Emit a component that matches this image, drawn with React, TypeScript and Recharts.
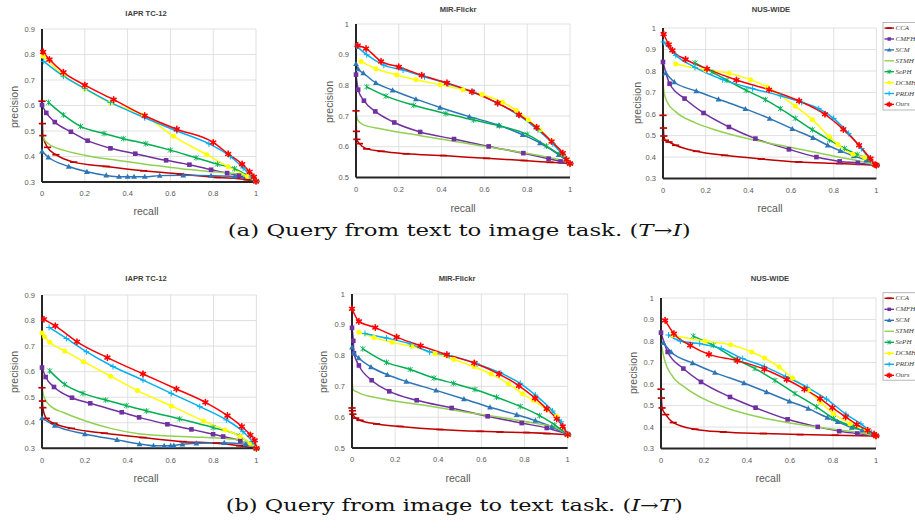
import React from 'react';
import { LineChart, Line, XAxis, YAxis, CartesianGrid } from 'recharts';

type Pt = [number, number];

// ---------- series meta ----------
const SERIES_NAMES = ['CCA', 'CMFH', 'SCM', 'STMH', 'SePH', 'DCMH', 'PRDH', 'Ours'];
const SERIES_COLORS = ['#C00000', '#7030A0', '#2E75B6', '#92D050', '#00B050', '#FFFF00', '#00B0F0', '#FF0000'];
const SERIES_MARKERS = ['dash', 'square', 'triangle', 'none', 'asterisk', 'circle', 'plus', 'star'];

// ---------- tick labels ----------
const X_TICKS = [0, 0.2, 0.4, 0.6, 0.8, 1];
const Y_TICKS_IAPR = [0.3, 0.4, 0.5, 0.6, 0.7, 0.8, 0.9];
const Y_TICKS_MIR = [0.5, 0.6, 0.7, 0.8, 0.9, 1];
const Y_TICKS_NUS = [0.3, 0.4, 0.5, 0.6, 0.7, 0.8, 0.9, 1];

const PANEL_TITLES = ['IAPR TC-12', 'MIR-Flickr', 'NUS-WIDE'];

// ---------- (a) text -> image, IAPR TC-12 ----------
const t2iIaprCCA: Pt[] = [[0, 0.617], [0.002, 0.529], [0.004, 0.482], [0.026, 0.436], [0.065, 0.407], [0.148, 0.378], [0.3, 0.361], [0.475, 0.344], [0.646, 0.331], [0.818, 0.318], [0.958, 0.309], [1, 0.303]];
const t2iIaprCMFH: Pt[] = [[0, 0.602], [0.02, 0.571], [0.06, 0.535], [0.135, 0.497], [0.213, 0.462], [0.32, 0.432], [0.436, 0.411], [0.58, 0.385], [0.689, 0.368], [0.79, 0.348], [0.865, 0.335], [0.92, 0.325], [1, 0.303]];
const t2iIaprSCM: Pt[] = [[0, 0.42], [0.03, 0.397], [0.125, 0.361], [0.21, 0.34], [0.3, 0.326], [0.36, 0.321], [0.4, 0.321], [0.43, 0.321], [0.48, 0.321], [0.55, 0.325], [0.66, 0.326], [0.79, 0.325], [0.9, 0.322], [1, 0.303]];
const t2iIaprSTMH: Pt[] = [[0, 0.5], [0.005, 0.475], [0.03, 0.45], [0.1, 0.425], [0.2, 0.405], [0.35, 0.385], [0.5, 0.368], [0.65, 0.352], [0.8, 0.34], [0.92, 0.33], [1, 0.303]];
const t2iIaprSePH: Pt[] = [[0.03, 0.612], [0.1, 0.563], [0.18, 0.518], [0.29, 0.49], [0.38, 0.47], [0.485, 0.45], [0.6, 0.425], [0.72, 0.395], [0.82, 0.37], [0.9, 0.352], [0.96, 0.325], [1, 0.303]];
const t2iIaprDCMH: Pt[] = [[0.005, 0.793], [0.1, 0.718], [0.2, 0.665], [0.32, 0.61], [0.475, 0.562], [0.615, 0.479], [0.77, 0.407], [0.87, 0.36], [0.96, 0.322], [1, 0.303]];
const t2iIaprPRDH: Pt[] = [[0.008, 0.773], [0.1, 0.715], [0.2, 0.667], [0.32, 0.612], [0.48, 0.552], [0.63, 0.5], [0.78, 0.45], [0.88, 0.4], [0.94, 0.355], [0.98, 0.32], [1, 0.303]];
const t2iIaprOurs: Pt[] = [[0.005, 0.81], [0.035, 0.78], [0.1, 0.73], [0.2, 0.68], [0.335, 0.623], [0.48, 0.56], [0.63, 0.507], [0.8, 0.455], [0.87, 0.41], [0.935, 0.37], [0.97, 0.34], [0.99, 0.32], [1, 0.303]];

// ---------- (a) text -> image, MIR-Flickr ----------
const t2iMirCCA: Pt[] = [[0, 0.717], [0.002, 0.65], [0.004, 0.624], [0.016, 0.61], [0.05, 0.593], [0.118, 0.585], [0.234, 0.577], [0.408, 0.571], [0.61, 0.562], [0.785, 0.555], [0.907, 0.549], [1, 0.545]];
const t2iMirCMFH: Pt[] = [[0, 0.835], [0.01, 0.786], [0.037, 0.75], [0.09, 0.715], [0.179, 0.679], [0.3, 0.648], [0.458, 0.625], [0.62, 0.601], [0.782, 0.579], [0.9, 0.561], [0.956, 0.552], [1, 0.545]];
const t2iMirSCM: Pt[] = [[0, 0.87], [0.01, 0.853], [0.034, 0.84], [0.093, 0.808], [0.171, 0.784], [0.28, 0.755], [0.393, 0.728], [0.53, 0.698], [0.668, 0.67], [0.779, 0.639], [0.86, 0.612], [0.947, 0.574], [1, 0.545]];
const t2iMirSTMH: Pt[] = [[0, 0.71], [0.01, 0.685], [0.03, 0.673], [0.12, 0.658], [0.3, 0.636], [0.5, 0.613], [0.7, 0.59], [0.85, 0.572], [0.95, 0.558], [1, 0.545]];
const t2iMirSePH: Pt[] = [[0.05, 0.795], [0.14, 0.765], [0.27, 0.735], [0.42, 0.708], [0.55, 0.687], [0.67, 0.668], [0.8, 0.64], [0.89, 0.602], [0.95, 0.575], [1, 0.545]];
const t2iMirDCMH: Pt[] = [[0.023, 0.878], [0.093, 0.854], [0.19, 0.834], [0.28, 0.818], [0.393, 0.802], [0.5, 0.786], [0.589, 0.77], [0.685, 0.745], [0.75, 0.718], [0.805, 0.688], [0.86, 0.655], [0.914, 0.617], [0.97, 0.574], [1, 0.545]];
const t2iMirPRDH: Pt[] = [[0.003, 0.928], [0.05, 0.9], [0.13, 0.866], [0.22, 0.85], [0.32, 0.828], [0.43, 0.805], [0.55, 0.778], [0.66, 0.742], [0.76, 0.703], [0.85, 0.655], [0.92, 0.61], [0.97, 0.57], [1, 0.545]];
const t2iMirOurs: Pt[] = [[0.008, 0.93], [0.047, 0.92], [0.117, 0.878], [0.2, 0.86], [0.307, 0.833], [0.425, 0.808], [0.542, 0.779], [0.662, 0.742], [0.762, 0.704], [0.844, 0.663], [0.914, 0.617], [0.966, 0.579], [0.984, 0.558], [1, 0.545]];

// ---------- (a) text -> image, NUS-WIDE ----------
const t2iNusCCA: Pt[] = [[0, 0.594], [0.002, 0.535], [0.004, 0.498], [0.011, 0.478], [0.028, 0.47], [0.059, 0.455], [0.156, 0.427], [0.289, 0.408], [0.461, 0.391], [0.636, 0.377], [0.828, 0.37], [1, 0.362]];
const t2iNusCMFH: Pt[] = [[0, 0.842], [0.031, 0.741], [0.101, 0.672], [0.19, 0.605], [0.309, 0.54], [0.433, 0.486], [0.59, 0.436], [0.719, 0.4], [0.828, 0.38], [0.913, 0.373], [1, 0.362]];
const t2iNusSCM: Pt[] = [[0.0125, 0.791], [0.053, 0.749], [0.156, 0.707], [0.26, 0.669], [0.386, 0.624], [0.5, 0.579], [0.606, 0.531], [0.703, 0.49], [0.772, 0.455], [0.831, 0.429], [0.894, 0.405], [0.953, 0.385], [1, 0.362]];
const t2iNusSTMH: Pt[] = [[0, 0.75], [0.005, 0.7], [0.02, 0.655], [0.06, 0.61], [0.15, 0.56], [0.25, 0.525], [0.4, 0.485], [0.55, 0.455], [0.7, 0.425], [0.85, 0.395], [0.95, 0.375], [1, 0.362]];
const t2iNusSePH: Pt[] = [[0.15, 0.838], [0.23, 0.795], [0.3, 0.757], [0.39, 0.71], [0.48, 0.667], [0.55, 0.625], [0.62, 0.58], [0.7, 0.527], [0.78, 0.48], [0.85, 0.44], [0.91, 0.412], [0.96, 0.392], [1, 0.362]];
const t2iNusDCMH: Pt[] = [[0.06, 0.833], [0.2, 0.805], [0.31, 0.79], [0.41, 0.76], [0.49, 0.725], [0.62, 0.636], [0.7, 0.574], [0.78, 0.494], [0.82, 0.458], [0.89, 0.413], [0.945, 0.398], [1, 0.362]];
const t2iNusPRDH: Pt[] = [[0.003, 0.935], [0.06, 0.873], [0.15, 0.817], [0.28, 0.76], [0.42, 0.718], [0.55, 0.685], [0.65, 0.655], [0.73, 0.625], [0.8, 0.58], [0.87, 0.51], [0.93, 0.44], [0.97, 0.39], [1, 0.362]];
const t2iNusOurs: Pt[] = [[0.003, 0.972], [0.027, 0.923], [0.044, 0.896], [0.106, 0.854], [0.206, 0.81], [0.344, 0.758], [0.497, 0.713], [0.638, 0.661], [0.759, 0.599], [0.845, 0.529], [0.919, 0.455], [0.972, 0.393], [0.994, 0.365], [1, 0.362]];

// ---------- (b) image -> text, IAPR TC-12 ----------
const i2tIaprCCA: Pt[] = [[0, 0.537], [0.002, 0.485], [0.004, 0.459], [0.02, 0.417], [0.056, 0.398], [0.137, 0.378], [0.292, 0.359], [0.471, 0.342], [0.658, 0.326], [0.813, 0.32], [0.922, 0.31], [1, 0.3]];
const i2tIaprCMFH: Pt[] = [[0, 0.616], [0.017, 0.579], [0.056, 0.54], [0.14, 0.498], [0.225, 0.476], [0.372, 0.441], [0.453, 0.421], [0.585, 0.394], [0.697, 0.374], [0.798, 0.355], [0.845, 0.346], [0.925, 0.33], [1, 0.3]];
const i2tIaprSCM: Pt[] = [[0, 0.418], [0.06, 0.389], [0.2, 0.356], [0.35, 0.333], [0.455, 0.317], [0.52, 0.31], [0.57, 0.31], [0.6, 0.31], [0.615, 0.311], [0.655, 0.316], [0.72, 0.32], [0.85, 0.322], [0.95, 0.316], [1, 0.3]];
const i2tIaprSTMH: Pt[] = [[0, 0.54], [0.01, 0.5], [0.04, 0.465], [0.1, 0.44], [0.2, 0.408], [0.32, 0.378], [0.45, 0.357], [0.6, 0.348], [0.75, 0.343], [0.9, 0.335], [1, 0.3]];
const i2tIaprSePH: Pt[] = [[0.036, 0.603], [0.106, 0.55], [0.191, 0.515], [0.297, 0.489], [0.393, 0.467], [0.487, 0.446], [0.642, 0.415], [0.798, 0.381], [0.922, 0.348], [1, 0.3]];
const i2tIaprDCMH: Pt[] = [[0, 0.751], [0.012, 0.737], [0.036, 0.715], [0.106, 0.681], [0.194, 0.639], [0.32, 0.582], [0.445, 0.526], [0.603, 0.466], [0.754, 0.407], [0.854, 0.372], [0.925, 0.346], [0.972, 0.32], [1, 0.3]];
const i2tIaprPRDH: Pt[] = [[0.033, 0.773], [0.114, 0.73], [0.207, 0.678], [0.331, 0.62], [0.471, 0.567], [0.603, 0.515], [0.736, 0.463], [0.86, 0.411], [0.938, 0.365], [0.981, 0.326], [1, 0.3]];
const i2tIaprOurs: Pt[] = [[0.009, 0.805], [0.062, 0.779], [0.163, 0.717], [0.305, 0.655], [0.471, 0.591], [0.627, 0.532], [0.762, 0.48], [0.865, 0.428], [0.932, 0.385], [0.972, 0.352], [0.992, 0.331], [1, 0.3]];

// ---------- (b) image -> text, MIR-Flickr ----------
const i2tMirCCA: Pt[] = [[0, 0.63], [0.002, 0.621], [0.004, 0.61], [0.017, 0.597], [0.037, 0.59], [0.114, 0.578], [0.223, 0.57], [0.408, 0.56], [0.594, 0.554], [0.686, 0.552], [0.81, 0.55], [0.903, 0.547], [1, 0.543]];
const i2tMirCMFH: Pt[] = [[0, 0.89], [0.006, 0.848], [0.009, 0.808], [0.032, 0.768], [0.091, 0.72], [0.173, 0.684], [0.3, 0.655], [0.462, 0.63], [0.629, 0.603], [0.787, 0.581], [0.903, 0.565], [1, 0.545]];
const i2tMirSCM: Pt[] = [[0, 0.827], [0.009, 0.808], [0.031, 0.792], [0.088, 0.763], [0.164, 0.738], [0.252, 0.716], [0.39, 0.687], [0.519, 0.659], [0.64, 0.632], [0.764, 0.608], [0.85, 0.589], [0.926, 0.569], [1, 0.543]];
const i2tMirSTMH: Pt[] = [[0, 0.72], [0.005, 0.69], [0.03, 0.68], [0.14, 0.66], [0.35, 0.637], [0.55, 0.614], [0.7, 0.598], [0.85, 0.58], [0.95, 0.565], [1, 0.543]];
const i2tMirSePH: Pt[] = [[0.05, 0.822], [0.16, 0.778], [0.27, 0.755], [0.38, 0.727], [0.47, 0.71], [0.57, 0.69], [0.67, 0.665], [0.78, 0.635], [0.87, 0.605], [0.94, 0.575], [1, 0.543]];
const i2tMirDCMH: Pt[] = [[0.032, 0.876], [0.102, 0.859], [0.187, 0.843], [0.277, 0.83], [0.385, 0.807], [0.473, 0.787], [0.566, 0.764], [0.645, 0.74], [0.725, 0.709], [0.791, 0.676], [0.841, 0.655], [0.906, 0.624], [0.949, 0.603], [1, 0.543]];
const i2tMirPRDH: Pt[] = [[0.06, 0.872], [0.16, 0.857], [0.27, 0.838], [0.36, 0.812], [0.45, 0.8], [0.58, 0.773], [0.69, 0.743], [0.78, 0.71], [0.85, 0.672], [0.93, 0.62], [0.97, 0.585], [1, 0.543]];
const i2tMirOurs: Pt[] = [[0, 0.952], [0.032, 0.911], [0.108, 0.891], [0.207, 0.86], [0.318, 0.832], [0.44, 0.803], [0.567, 0.776], [0.682, 0.74], [0.774, 0.702], [0.849, 0.662], [0.903, 0.627], [0.949, 0.595], [0.977, 0.57], [1, 0.543]];

// ---------- (b) image -> text, NUS-WIDE ----------
const i2tNusCCA: Pt[] = [[0, 0.576], [0.002, 0.535], [0.005, 0.489], [0.022, 0.458], [0.057, 0.421], [0.158, 0.39], [0.29, 0.377], [0.476, 0.37], [0.647, 0.365], [0.81, 0.362], [1, 0.359]];
const i2tNusCMFH: Pt[] = [[0, 0.839], [0.031, 0.749], [0.104, 0.672], [0.186, 0.61], [0.321, 0.54], [0.44, 0.49], [0.589, 0.436], [0.729, 0.401], [0.829, 0.381], [0.913, 0.37], [1, 0.359]];
const i2tNusSCM: Pt[] = [[0.011, 0.792], [0.047, 0.749], [0.147, 0.698], [0.251, 0.653], [0.386, 0.605], [0.491, 0.563], [0.597, 0.52], [0.685, 0.486], [0.774, 0.444], [0.822, 0.424], [0.887, 0.398], [0.936, 0.385], [1, 0.359]];
const i2tNusSTMH: Pt[] = [[0, 0.788], [0.019, 0.703], [0.05, 0.641], [0.119, 0.579], [0.197, 0.532], [0.336, 0.478], [0.491, 0.439], [0.647, 0.412], [0.802, 0.39], [0.926, 0.374], [1, 0.359]];
const i2tNusSePH: Pt[] = [[0.15, 0.823], [0.243, 0.78], [0.349, 0.715], [0.437, 0.672], [0.53, 0.617], [0.623, 0.556], [0.724, 0.494], [0.802, 0.44], [0.895, 0.401], [1, 0.359]];
const i2tNusDCMH: Pt[] = [[0.054, 0.827], [0.205, 0.799], [0.324, 0.783], [0.422, 0.749], [0.481, 0.721], [0.55, 0.679], [0.612, 0.628], [0.685, 0.571], [0.74, 0.517], [0.802, 0.463], [0.879, 0.416], [0.957, 0.385], [1, 0.359]];
const i2tNusPRDH: Pt[] = [[0.035, 0.828], [0.09, 0.8], [0.18, 0.788], [0.28, 0.765], [0.38, 0.718], [0.48, 0.682], [0.58, 0.635], [0.68, 0.585], [0.77, 0.53], [0.86, 0.46], [0.93, 0.415], [0.98, 0.375], [1, 0.359]];
const i2tNusOurs: Pt[] = [[0.019, 0.896], [0.06, 0.834], [0.136, 0.78], [0.223, 0.738], [0.355, 0.709], [0.481, 0.669], [0.585, 0.621], [0.667, 0.576], [0.74, 0.532], [0.797, 0.49], [0.859, 0.447], [0.91, 0.412], [0.961, 0.385], [0.991, 0.367], [1, 0.359]];

// ---------- markers ----------
function markerEl(kind: string, color: string, cx: number, cy: number, key: string, s = 1) {
  if (cx == null || cy == null || isNaN(cx) || isNaN(cy)) return <g key={key} />;
  switch (kind) {
    case 'dash':
      return <line key={key} x1={cx - 3.6 * s} x2={cx + 3.6 * s} y1={cy} y2={cy} stroke={color} strokeWidth={1.7} />;
    case 'square':
      return <rect key={key} x={cx - 2.3 * s} y={cy - 2.3 * s} width={4.6 * s} height={4.6 * s} fill={color} />;
    case 'triangle':
      return <path key={key} d={`M${cx},${cy - 3 * s}L${cx + 2.9 * s},${cy + 2.2 * s}L${cx - 2.9 * s},${cy + 2.2 * s}Z`} fill={color} />;
    case 'asterisk': {
      const a = 2.4 * s;
      return (
        <g key={key} stroke={color} strokeWidth={0.9}>
          <line x1={cx - a} y1={cy - a} x2={cx + a} y2={cy + a} />
          <line x1={cx - a} y1={cy + a} x2={cx + a} y2={cy - a} />
          <line x1={cx} y1={cy - a * 1.2} x2={cx} y2={cy + a * 1.2} />
        </g>
      );
    }
    case 'circle':
      return <circle key={key} cx={cx} cy={cy} r={2.5 * s} fill={color} />;
    case 'plus': {
      const a = 3 * s;
      return (
        <g key={key} stroke={color} strokeWidth={1}>
          <line x1={cx - a} y1={cy} x2={cx + a} y2={cy} />
          <line x1={cx} y1={cy - a} x2={cx} y2={cy + a} />
        </g>
      );
    }
    case 'star': {
      const a = 2.8 * s;
      return (
        <g key={key} stroke={color} strokeWidth={1.6} strokeLinecap="round">
          <line x1={cx} y1={cy - a} x2={cx} y2={cy + a} />
          <line x1={cx - a * 0.87} y1={cy - a * 0.5} x2={cx + a * 0.87} y2={cy + a * 0.5} />
          <line x1={cx - a * 0.87} y1={cy + a * 0.5} x2={cx + a * 0.87} y2={cy - a * 0.5} />
        </g>
      );
    }
    default:
      return <g key={key} />;
  }
}

const makeDot = (kind: string, color: string) => (p: any) =>
  markerEl(kind, color, p.cx, p.cy, `m-${p.index}`);

const toRows = (pts: Pt[]) => pts.map(([x, y]) => ({ x, y }));

const fmt = (v: number) => String(Math.round(v * 10) / 10);

type PanelProps = {
  box: [number, number, number, number];
  yDomain: [number, number];
  yTicks: number[];
  series: Pt[][];
};

function Panel({ box, yDomain, yTicks, series }: PanelProps) {
  const [x0, x1, yT, yB] = box;
  const padL = 40;
  const padT = 10;
  const padR = 12;
  const padB = 24;
  const width = x1 - x0 + padL + padR;
  const height = yB - yT + padT + padB;
  const tickStyle = { fontSize: 7.5, fill: '#595959', fontFamily: 'Liberation Sans, Arial, sans-serif' };
  return (
    <div style={{ position: 'absolute', left: x0 - padL, top: yT - padT }}>
      <LineChart width={width} height={height} margin={{ top: padT, right: padR, bottom: 0, left: padL - 30 }}>
        <CartesianGrid stroke="#D9D9D9" strokeWidth={0.8} />
        <XAxis
          type="number"
          dataKey="x"
          domain={[0, 1]}
          ticks={X_TICKS}
          interval={0}
          height={padB}
          axisLine={{ stroke: '#262626', strokeWidth: 2 }}
          tickLine={false}
          tickSize={4}
          tickMargin={5}
          tick={tickStyle}
          tickFormatter={fmt}
        />
        <YAxis
          type="number"
          domain={yDomain}
          ticks={yTicks}
          interval={0}
          width={30}
          axisLine={{ stroke: '#262626', strokeWidth: 2 }}
          tickLine={false}
          tickSize={4}
          tickMargin={3}
          tick={tickStyle}
          tickFormatter={fmt}
        />
        {series.map((pts, i) => (
          <Line
            key={SERIES_NAMES[i]}
            name={SERIES_NAMES[i]}
            data={toRows(pts)}
            dataKey="y"
            type="monotone"
            stroke={SERIES_COLORS[i]}
            strokeWidth={1.5}
            dot={SERIES_MARKERS[i] === 'none' ? false : makeDot(SERIES_MARKERS[i], SERIES_COLORS[i])}
            activeDot={false}
            isAnimationActive={false}
          />
        ))}
      </LineChart>
    </div>
  );
}

function LegendBox({ top, height, step }: { top: number; height: number; step: number }) {
  const left = 883;
  return (
    <g>
      <rect x={left} y={top} width={45} height={height} fill="#FFFFFF" stroke="#A6A6A6" strokeWidth={0.8} />
      {SERIES_NAMES.map((n, i) => {
        const cy = top + 5.6 + i * step;
        return (
          <g key={n}>
            <line x1={left + 1.5} x2={left + 11} y1={cy} y2={cy} stroke={SERIES_COLORS[i]} strokeWidth={1.4} />
            {markerEl(SERIES_MARKERS[i], SERIES_COLORS[i], left + 6.2, cy, 'lm' + n, 0.75)}
            <text
              x={left + 12.5}
              y={cy}
              dominantBaseline="central"
              fontFamily="Liberation Serif, Times New Roman, serif"
              fontStyle="italic"
              fontSize={7}
              fill="#404040"
            >
              {n}
            </text>
          </g>
        );
      })}
    </g>
  );
}

const sansFont = 'Liberation Sans, Arial, sans-serif';

export default function App() {
  return (
    <div style={{ position: 'absolute', left: 0, top: 0, width: 915, height: 529, background: '#FFFFFF', overflow: 'hidden' }}>
      <Panel box={[41.7, 255.7, 29.3, 182.3]} yDomain={[0.3, 0.9]} yTicks={Y_TICKS_IAPR}
        series={[t2iIaprCCA, t2iIaprCMFH, t2iIaprSCM, t2iIaprSTMH, t2iIaprSePH, t2iIaprDCMH, t2iIaprPRDH, t2iIaprOurs]} />
      <Panel box={[356, 570, 24.3, 177.7]} yDomain={[0.5, 1]} yTicks={Y_TICKS_MIR}
        series={[t2iMirCCA, t2iMirCMFH, t2iMirSCM, t2iMirSTMH, t2iMirSePH, t2iMirDCMH, t2iMirPRDH, t2iMirOurs]} />
      <Panel box={[663.3, 876.7, 27.7, 178.3]} yDomain={[0.3, 1]} yTicks={Y_TICKS_NUS}
        series={[t2iNusCCA, t2iNusCMFH, t2iNusSCM, t2iNusSTMH, t2iNusSePH, t2iNusDCMH, t2iNusPRDH, t2iNusOurs]} />
      <Panel box={[42.3, 256.7, 295, 448.3]} yDomain={[0.3, 0.9]} yTicks={Y_TICKS_IAPR}
        series={[i2tIaprCCA, i2tIaprCMFH, i2tIaprSCM, i2tIaprSTMH, i2tIaprSePH, i2tIaprDCMH, i2tIaprPRDH, i2tIaprOurs]} />
      <Panel box={[352, 567.7, 294.3, 448.3]} yDomain={[0.5, 1]} yTicks={Y_TICKS_MIR}
        series={[i2tMirCCA, i2tMirCMFH, i2tMirSCM, i2tMirSTMH, i2tMirSePH, i2tMirDCMH, i2tMirPRDH, i2tMirOurs]} />
      <Panel box={[661, 876, 297.7, 448.3]} yDomain={[0.3, 1]} yTicks={Y_TICKS_NUS}
        series={[i2tNusCCA, i2tNusCMFH, i2tNusSCM, i2tNusSTMH, i2tNusSePH, i2tNusDCMH, i2tNusPRDH, i2tNusOurs]} />

      <svg width={915} height={529} style={{ position: 'absolute', left: 0, top: 0, pointerEvents: 'none' }}>
        {/* titles */}
        {[[146, 13, 0], [458, 9, 1], [771, 9, 2], [146, 278, 0], [457, 278, 1], [770, 278, 2]].map(([x, y, t], i) => (
          <text key={'t' + i} x={x} y={y} textAnchor="middle" dominantBaseline="central"
            fontFamily={sansFont} fontWeight="bold" fontSize={7.6} fill="#404040">
            {PANEL_TITLES[t]}
          </text>
        ))}
        {/* y labels */}
        {[[14, 107], [329, 102], [637, 103], [14, 372], [323, 372], [633, 373]].map(([x, y], i) => (
          <text key={'p' + i} x={x} y={y} textAnchor="middle" dominantBaseline="central"
            transform={`rotate(-90 ${x} ${y})`} fontFamily={sansFont} fontSize={10.5} fill="#595959">
            precision
          </text>
        ))}
        {/* x labels */}
        {[[146, 211], [463, 208], [770, 208], [146, 478], [458, 478], [768, 478]].map(([x, y], i) => (
          <text key={'r' + i} x={x} y={y} textAnchor="middle" dominantBaseline="central"
            fontFamily={sansFont} fontSize={10.5} fill="#595959">
            recall
          </text>
        ))}
        <LegendBox top={22.5} height={87.5} step={10.9} />
        <LegendBox top={292.7} height={87.5} step={11} />
        {/* captions */}
        <text x={227.7} y={236} fontFamily="DejaVu Serif, serif" fontSize={16} fill="#111"
          textLength={463} lengthAdjust="spacingAndGlyphs">
          (a) Query from text to image task. (<tspan fontStyle="italic">T</tspan>→<tspan fontStyle="italic">I</tspan>)
        </text>
        <text x={225.7} y={511} fontFamily="DejaVu Serif, serif" fontSize={16} fill="#111"
          textLength={457} lengthAdjust="spacingAndGlyphs">
          (b) Query from image to text task. (<tspan fontStyle="italic">I</tspan>→<tspan fontStyle="italic">T</tspan>)
        </text>
      </svg>
    </div>
  );
}
